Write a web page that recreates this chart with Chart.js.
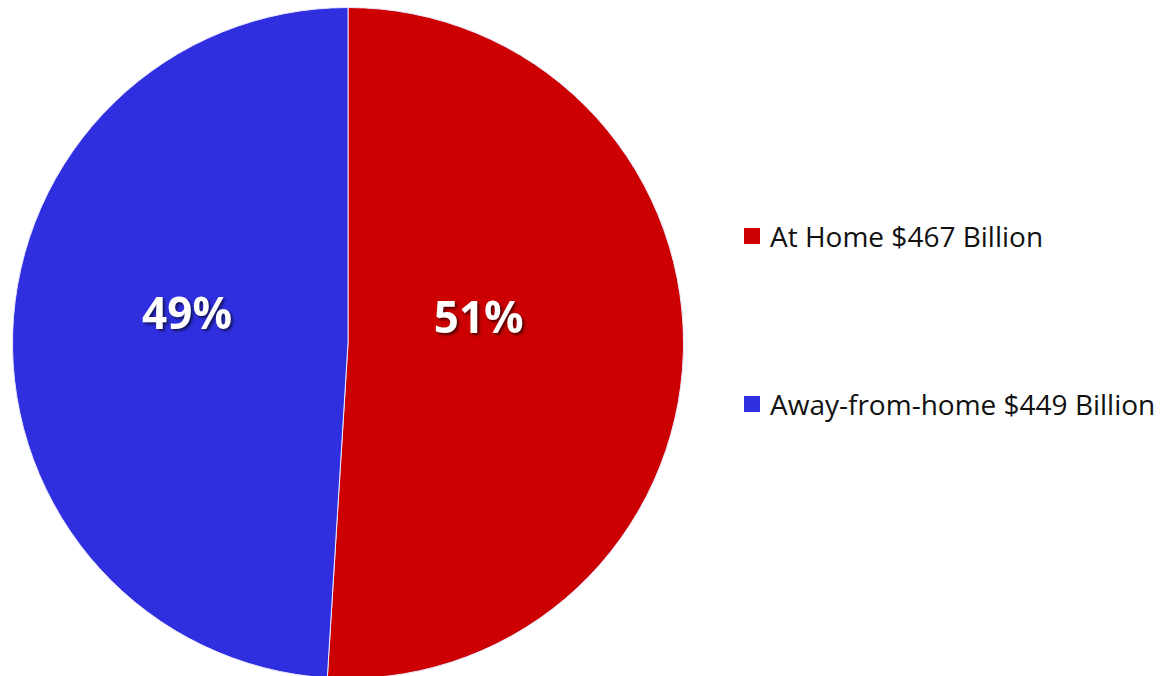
<!DOCTYPE html>
<html>
<head>
<meta charset="utf-8">
<script src="https://cdn.jsdelivr.net/npm/chart.js"></script>
<style>
  html, body { margin:0; padding:0; background:#fff; overflow:hidden; }
  #wrap { position:relative; width:1163px; height:676px; }
  #pieBox { position:absolute; left:12px; top:7px; width:672px; height:672px; }
  #legend { position:absolute; left:744px; top:0; font-family:"Open Sans", sans-serif; font-size:28px; color:#111; }
  #legend .item { position:absolute; display:flex; align-items:center; white-space:nowrap; transform:translateY(-50%); }
  #legend .swatch { width:16px; height:16px; margin-right:10px; }
</style>
</head>
<body>
<div id="wrap">
  <div id="pieBox"><canvas id="pie"></canvas></div>
  <div id="legend"></div>
</div>
<script>
// 🔹 DATA
const categories = ["At Home $467 Billion", "Away-from-home $449 Billion"];
const values = [467, 449];
const percentLabels = ["51%", "49%"];
const colors = ["#cc0000", "#2f2fe0"];

// label placement along the slice mid-angle (fraction of radius)
const labelRadius = [0.39, 0.48];
const labelLift = [-0.08, -0.065];

// 🔹 PERCENT LABELS PLUGIN
const pctPlugin = {
  id: 'pctLabels',
  afterDatasetsDraw(chart) {
    const ctx = chart.ctx;
    const meta = chart.getDatasetMeta(0);
    meta.data.forEach((arc, i) => {
      const p = arc.getProps(['x', 'y', 'startAngle', 'endAngle', 'outerRadius'], true);
      const mid = (p.startAngle + p.endAngle) / 2;
      const r = p.outerRadius;
      const x = p.x + Math.cos(mid) * r * labelRadius[i];
      const y = p.y + Math.sin(mid) * r * labelRadius[i] + labelLift[i] * r;
      ctx.save();
      ctx.font = 'bold 44px "Open Sans", sans-serif';
      ctx.textAlign = 'center';
      ctx.textBaseline = 'middle';
      ctx.shadowColor = 'rgba(0,0,0,0.6)';
      ctx.shadowOffsetX = 2;
      ctx.shadowOffsetY = 2;
      ctx.shadowBlur = 3;
      ctx.fillStyle = '#fff';
      ctx.fillText(percentLabels[i], x, y);
      ctx.restore();
    });
  }
};

// 🔹 CHART
new Chart(document.getElementById('pie'), {
  type: 'pie',
  data: {
    labels: categories,
    datasets: [{ data: values, backgroundColor: colors, borderColor: '#e8e8ff', borderWidth: 1 }]
  },
  options: {
    responsive: true,
    maintainAspectRatio: false,
    animation: false,
    layout: { padding: 0 },
    plugins: { legend: { display: false }, tooltip: { enabled: false } }
  },
  plugins: [pctPlugin]
});

// 🔹 LEGEND
const legendCenters = [236, 404];
const legend = document.getElementById('legend');
categories.forEach((c, i) => {
  const item = document.createElement('div');
  item.className = 'item';
  item.style.top = legendCenters[i] + 'px';
  item.innerHTML = `<div class="swatch" style="background:${colors[i]}"></div><div>${c}</div>`;
  legend.appendChild(item);
});
</script>
</body>
</html>
